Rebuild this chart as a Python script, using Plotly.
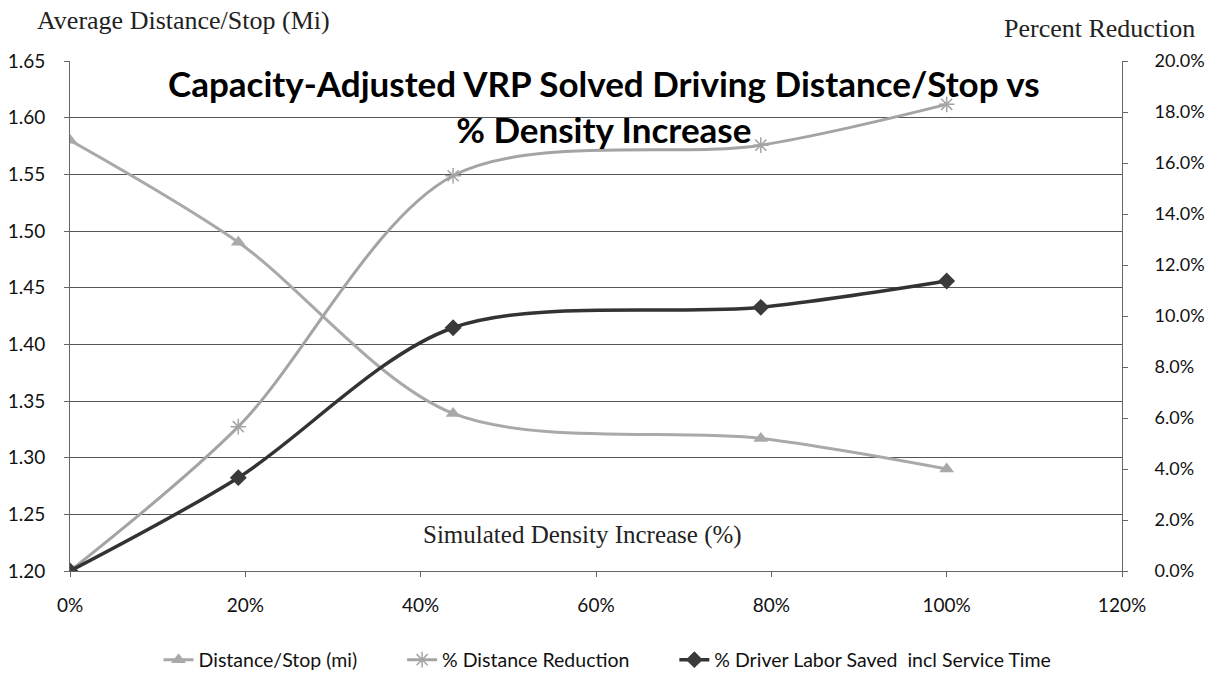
import plotly.graph_objects as go

# Data
density_increase = [0.0, 0.192, 0.437, 0.788, 1.0]
distance_per_stop = [1.580, 1.490, 1.339, 1.317, 1.290]
pct_distance_reduction = [0.0, 0.0566, 0.155, 0.167, 0.183]
pct_driver_labor_saved = [0.0, 0.0366, 0.0954, 0.1034, 0.1137]

series_names = ["Distance/Stop (mi)", "% Distance Reduction",
                "% Driver Labor Saved  incl Service Time"]

title_text = "<b>Capacity-Adjusted VRP Solved Driving Distance/Stop vs<br>% Density Increase</b>"

pad = "\u00a0" * 8  # extra spacing between legend entries

fig = go.Figure()

fig.add_trace(go.Scatter(
    x=density_increase, y=distance_per_stop, name=series_names[0] + pad,
    mode="lines+markers", line=dict(color="#a9a9a9", width=3, shape="spline", smoothing=0.9),
    marker=dict(symbol="triangle-up", size=13, color="#a9a9a9"),
    yaxis="y"))

fig.add_trace(go.Scatter(
    x=density_increase, y=pct_distance_reduction, name=series_names[1] + pad,
    mode="lines+markers", line=dict(color="#a4a4a4", width=3, shape="spline", smoothing=0.9),
    marker=dict(symbol="asterisk-open", size=13, line=dict(color="#8a8a8a", width=1.5)),
    yaxis="y2"))

fig.add_trace(go.Scatter(
    x=density_increase, y=pct_driver_labor_saved, name=series_names[2],
    mode="lines+markers", line=dict(color="#333333", width=3.5, shape="spline", smoothing=0.9),
    marker=dict(symbol="diamond", size=13, color="#3a3a3a"),
    yaxis="y2"))

sans = "Lato, Open Sans, sans-serif"
tick_font = dict(family=sans, size=19, color="#111111")
tick_font_r = dict(family=sans, size=18, color="#111111")
serif_family = "Liberation Serif, DejaVu Serif, serif"
serif = dict(family=serif_family, size=26, color="#222222")

fig.update_layout(
    width=1207, height=675,
    paper_bgcolor="white", plot_bgcolor="white",
    margin=dict(l=70, r=85, t=61, b=104, autoexpand=False),
    showlegend=True,
    legend=dict(orientation="h", x=0.511, xanchor="center", y=-0.1745, yanchor="middle",
                font=dict(family=sans, size=19.5, color="#111111"),
                traceorder="normal", borderwidth=0),
    xaxis=dict(range=[0, 1.2], dtick=0.2, tickformat=".0%", showgrid=False,
               showline=True, linecolor="#666666", linewidth=1,
               ticks="outside", ticklen=5, tickcolor="#666666",
               ticklabelstandoff=12,
               tickfont=tick_font, zeroline=False),
    yaxis=dict(range=[1.20, 1.65], dtick=0.05, tickformat=".2f",
               showgrid=True, gridcolor="#555555", gridwidth=1.2,
               showline=True, linecolor="#666666", linewidth=1,
               ticks="outside", ticklen=5, tickcolor="#666666",
               ticklabelstandoff=15,
               tickfont=tick_font, zeroline=False),
    yaxis2=dict(range=[0, 0.20], dtick=0.02, tickformat=".1%", overlaying="y", side="right",
                showgrid=False, showline=True, linecolor="#666666", linewidth=1,
                ticks="outside", ticklen=5, tickcolor="#666666",
                ticklabelstandoff=23,
                tickfont=tick_font_r, zeroline=False),
    annotations=[
        dict(text=title_text, xref="paper", yref="paper", x=0.5076, y=0.9127,
             xanchor="center", yanchor="middle", showarrow=False,
             font=dict(family=sans, size=35, color="#000000"),
             align="center"),
        dict(text="Average Distance/Stop (Mi)", xref="paper", yref="paper",
             x=-0.0333, y=1.0, xanchor="left", yanchor="middle", yshift=41,
             showarrow=False, font=serif),
        dict(text="Percent Reduction", xref="paper", yref="paper",
             x=1.0713, y=1.0, xanchor="right", yanchor="middle", yshift=33,
             showarrow=False, font=serif),
        dict(text="Simulated Density Increase (%)", xref="x", yref="y",
             x=0.585, y=1.232, xanchor="center", yanchor="middle",
             showarrow=False, font=dict(family=serif_family, size=25, color="#222222")),
    ],
)

# remove the default 8px page margin so the figure fills the window exactly
fig.write_html("out.html", config={"displayModeBar": False},
               post_script="document.body.style.margin='0px';")
